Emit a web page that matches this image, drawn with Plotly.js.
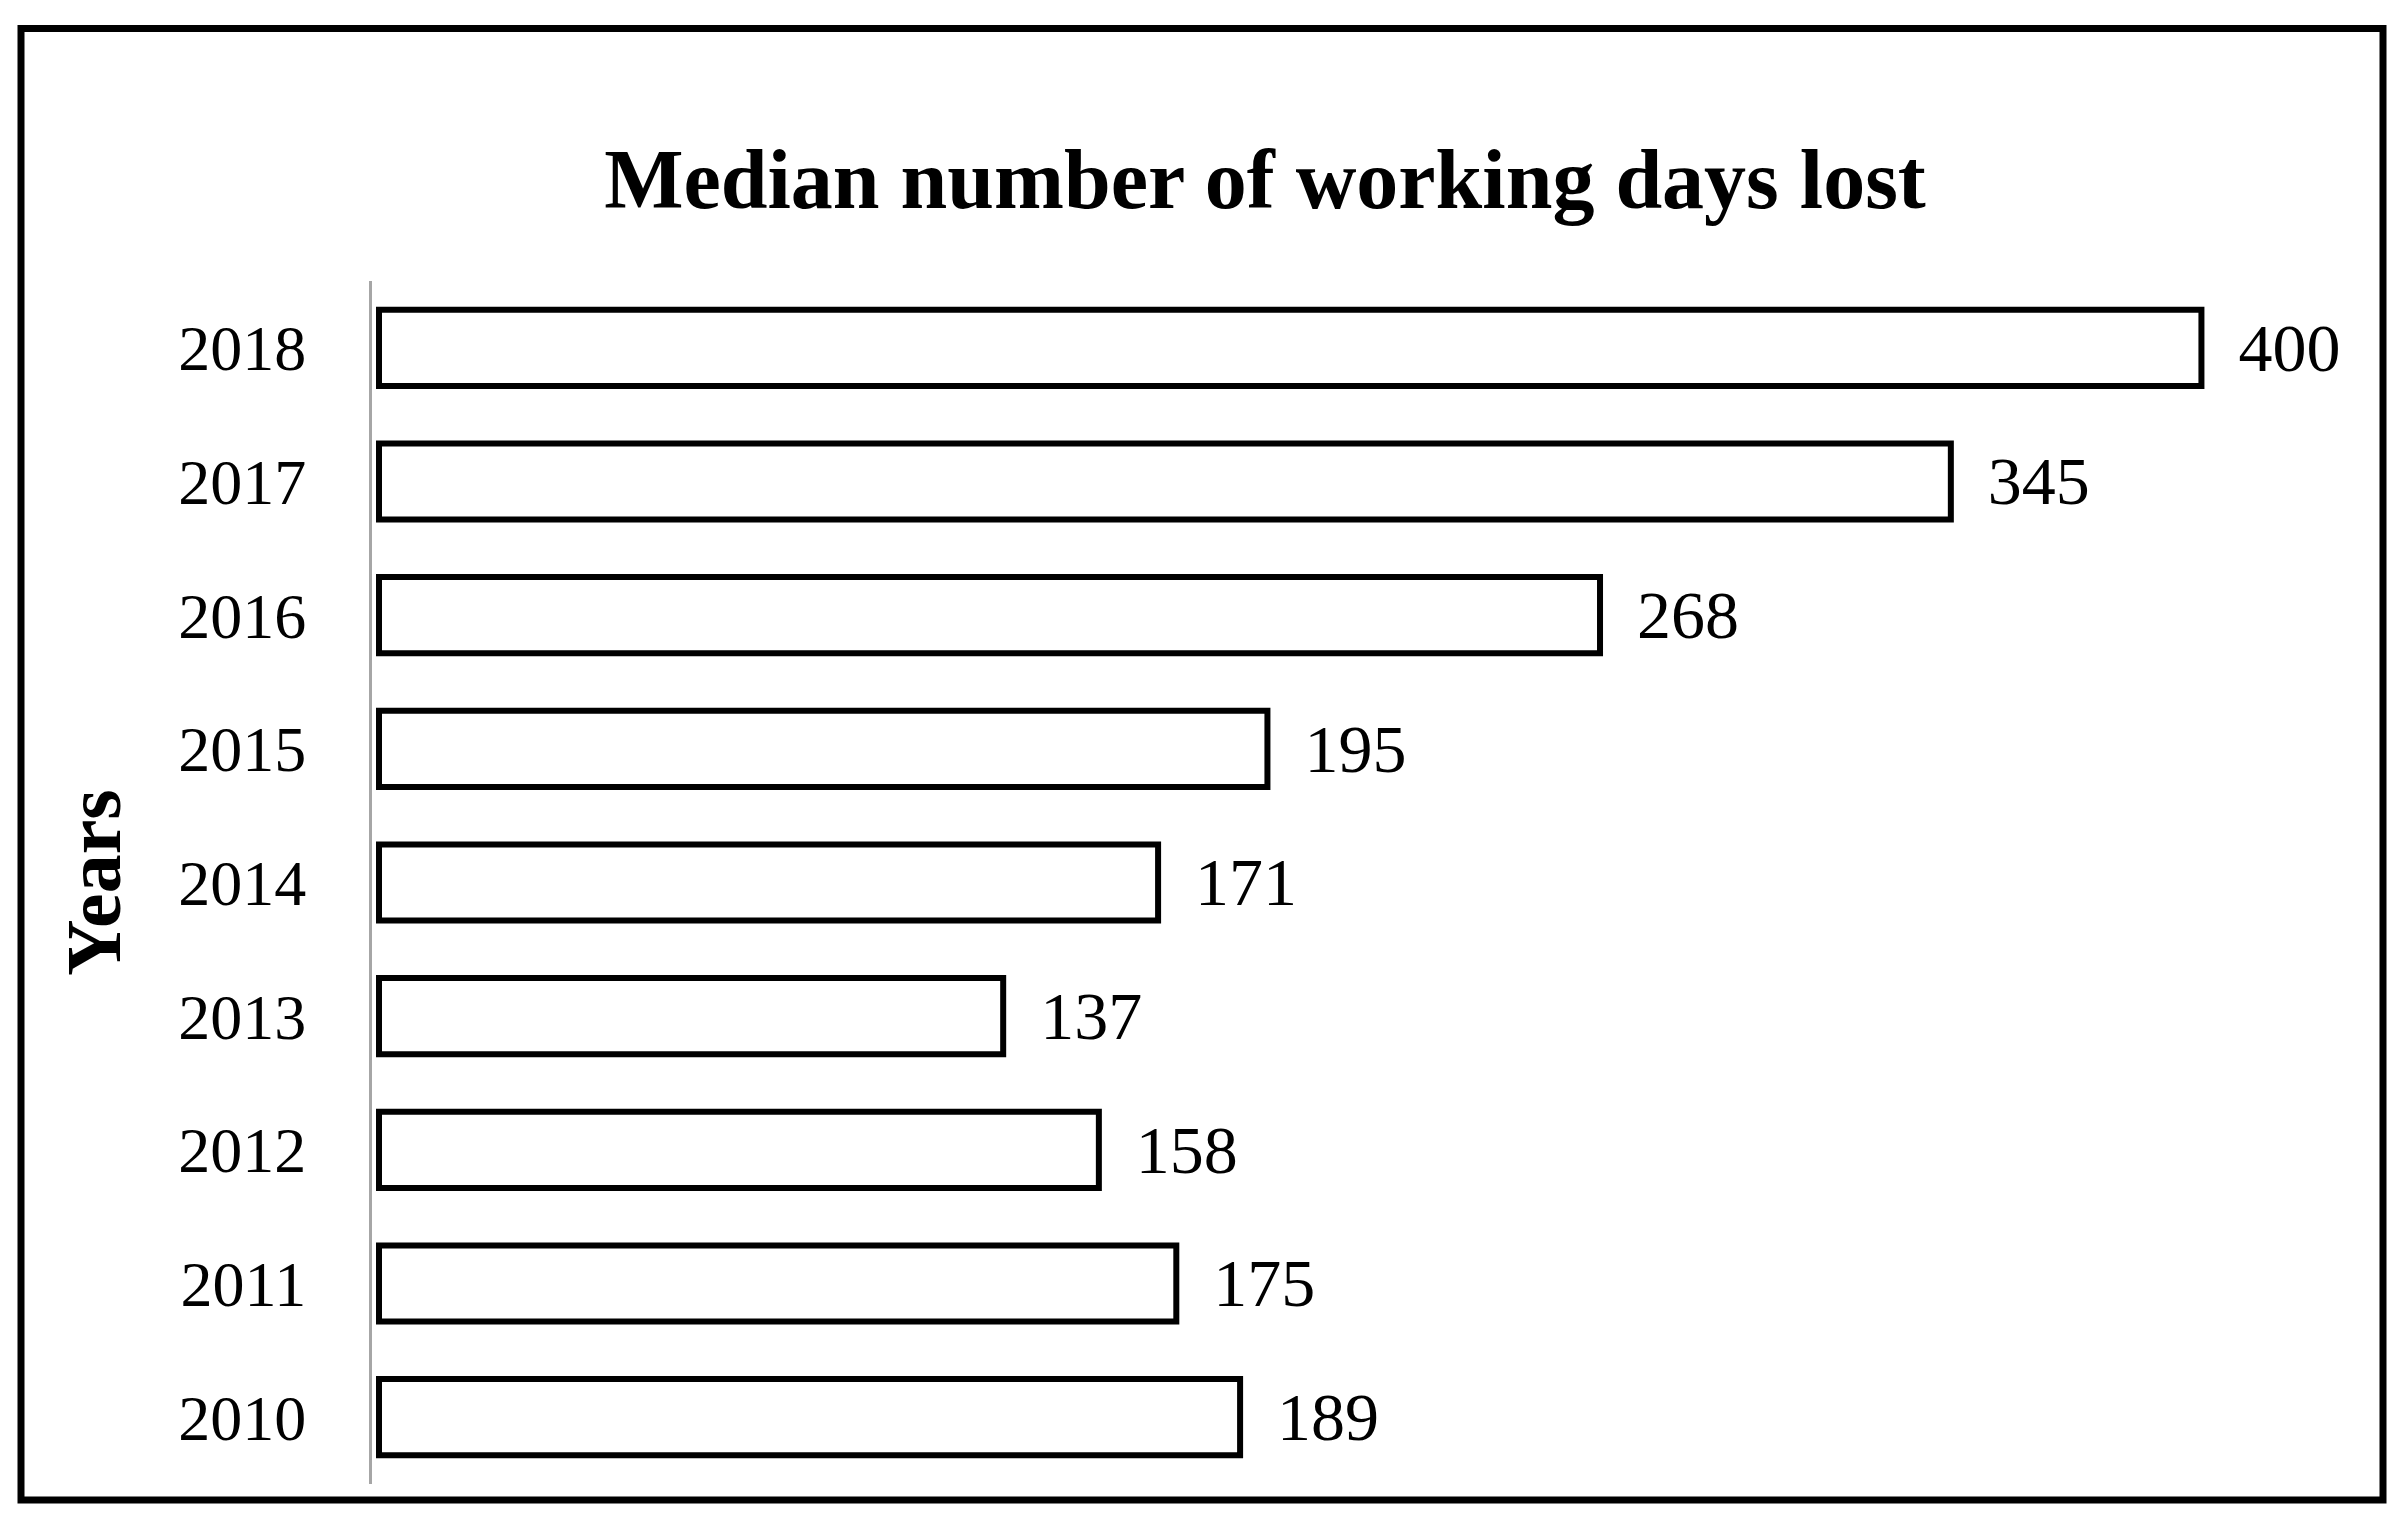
<!DOCTYPE html>
<html>
<head>
<meta charset="utf-8">
<script src="https://cdn.plot.ly/plotly-3.0.1.min.js"></script>
<style>
  html, body { margin: 0; padding: 0; background: #ffffff; }
  #chart { width: 2404px; height: 1522px; }
</style>
</head>
<body>
<div id="chart"></div>
<script>
// ---- Data ----
const years = ['2010', '2011', '2012', '2013', '2014', '2015', '2016', '2017', '2018'];
const daysLost = [189, 175, 158, 137, 171, 195, 268, 345, 400];
const chartTitle = 'Median number of working days lost';
const yTitle = 'Years';

// ---- Layout geometry ----
const W = 2404, H = 1522;
const M = { l: 372, r: 34, t: 281, b: 38 };
const plotW = W - M.l - M.r;
const plotH = H - M.t - M.b;
const pxX = px => (px - M.l) / plotW;
const pxY = py => (H - M.b - py) / plotH;

const FONT = 'Liberation Serif, Times New Roman, serif';

const trace = {
  type: 'bar',
  orientation: 'h',
  y: years,
  x: daysLost,
  text: daysLost.map(v => '\u00a0\u00a0' + v),
  textposition: 'outside',
  constraintext: 'none',
  cliponaxis: false,
  outsidetextfont: { family: FONT, size: 68, color: '#000000' },
  textfont: { family: FONT, size: 68, color: '#000000' },
  marker: { color: '#ffffff', line: { color: '#000000', width: 6 } },
  hoverinfo: 'x+y',
  showlegend: false
};

const layout = {
  width: W,
  height: H,
  margin: M,
  paper_bgcolor: '#ffffff',
  plot_bgcolor: '#ffffff',
  bargap: 0.43,
  title: {
    text: '<b>' + chartTitle + '</b>',
    font: { family: FONT, size: 84, color: '#000000' },
    xref: 'container',
    yref: 'container',
    x: 1265 / W,
    xanchor: 'center',
    y: 1 - 149 / H,
    yanchor: 'top'
  },
  xaxis: {
    range: [-1.536, 437.0],
    showgrid: false,
    zeroline: false,
    showline: false,
    showticklabels: false,
    ticks: '',
    fixedrange: true
  },
  yaxis: {
    type: 'category',
    range: [-0.5, 8.5],
    showgrid: false,
    zeroline: false,
    showline: true,
    linecolor: '#a6a6a6',
    linewidth: 3,
    ticks: '',
    ticklabelstandoff: 50,
    tickfont: { family: FONT, size: 64, color: '#000000' },
    title: {
      text: '<b>' + yTitle + '</b>',
      font: { family: FONT, size: 78, color: '#000000' },
      standoff: 32
    },
    fixedrange: true
  },
  shapes: [{
    type: 'rect',
    xref: 'paper',
    yref: 'paper',
    x0: pxX(21),
    x1: pxX(2383),
    y0: pxY(1500),
    y1: pxY(28.5),
    line: { color: '#000000', width: 7 },
    fillcolor: 'rgba(0,0,0,0)',
    layer: 'above'
  }]
};

Plotly.newPlot('chart', [trace], layout, { displayModeBar: false, staticPlot: true });
</script>
</body>
</html>
